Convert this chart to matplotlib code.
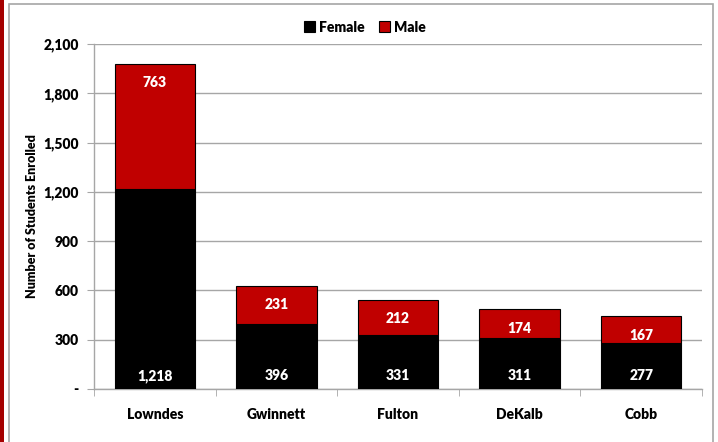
import matplotlib.pyplot as plt
import matplotlib.patches as mpatches
import numpy as np

counties = ['Lowndes', 'Gwinnett', 'Fulton', 'DeKalb', 'Cobb']
female = [1218, 396, 331, 311, 277]
male = [763, 231, 212, 174, 167]
yticks = [0, 300, 600, 900, 1200, 1500, 1800, 2100]

WT = 'heavy'
plt.rcParams['font.family'] = ['Lato', 'DejaVu Sans']
plt.rcParams['font.weight'] = WT

fig = plt.figure(figsize=(7.18, 4.42), dpi=100)
ax = fig.add_axes([94/718, 1 - 389/442, 608/718, 345/442])

# outer frame and red strip
fig.patches.append(mpatches.Rectangle((9/718, -0.05), 704/718, 1.05 - 4/442,
                                      transform=fig.transFigure, fill=False,
                                      edgecolor='#a6a6a6', linewidth=1.2))
fig.patches.append(mpatches.Rectangle((0, 0), 4/718, 1, transform=fig.transFigure,
                                      facecolor='#a50000', edgecolor='none'))

x = np.arange(len(counties))
w = 0.66
b1 = ax.bar(x, female, w, color='black', edgecolor='black', linewidth=0.8, label='Female', zorder=3)
b2 = ax.bar(x, male, w, bottom=female, color='#c00000', edgecolor='black', linewidth=0.8, label='Male', zorder=3)

for i in range(len(counties)):
    ax.annotate(f'{female[i]:,}', (x[i], 0), xytext=(0, 13), textcoords='offset pixels',
                ha='center', va='center', color='white', fontsize=10, fontweight=WT, zorder=4)
    ax.annotate(f'{male[i]:,}', (x[i], female[i] + male[i]), xytext=(0, -19), textcoords='offset pixels',
                ha='center', va='center', color='white', fontsize=10, fontweight=WT, zorder=4)

ax.set_xlim(-0.5, len(counties) - 0.5)
ax.set_ylim(0, 2100)
ax.set_yticks(yticks)
ax.set_yticklabels(['-'] + [f'{v:,}' for v in yticks[1:]], fontsize=10, fontweight=WT)
ax.set_xticks(x)
ax.set_xticklabels(counties, fontsize=10, fontweight=WT)
ax.set_xticks(np.arange(len(counties) + 1) - 0.5, minor=True)
ax.tick_params(axis='x', which='major', length=0, pad=14)
ax.tick_params(axis='x', which='minor', length=5, color='#a6a6a6', direction='out')
ax.tick_params(axis='y', length=5, color='#a6a6a6', direction='out', pad=6)
ax.grid(axis='y', color='#a6a6a6', linewidth=1, zorder=0)
ax.set_axisbelow(True)
for s in ['top', 'right']:
    ax.spines[s].set_visible(False)
for s in ['left', 'bottom']:
    ax.spines[s].set_color('#a6a6a6')
    ax.spines[s].set_linewidth(1)

ax.set_ylabel('Number of Students Enrolled', fontsize=9, fontweight=WT)
ax.yaxis.set_label_coords(-56/608, 0.5)

leg = fig.legend(handles=[b1, b2], labels=['Female', 'Male'], loc='center',
                 bbox_to_anchor=(365/718, 1 - 27/442), ncol=2, frameon=False,
                 fontsize=10, handlelength=0.8, handleheight=0.8, handletextpad=0.3,
                 columnspacing=1.0)

fig.savefig('out.png', dpi=100)
